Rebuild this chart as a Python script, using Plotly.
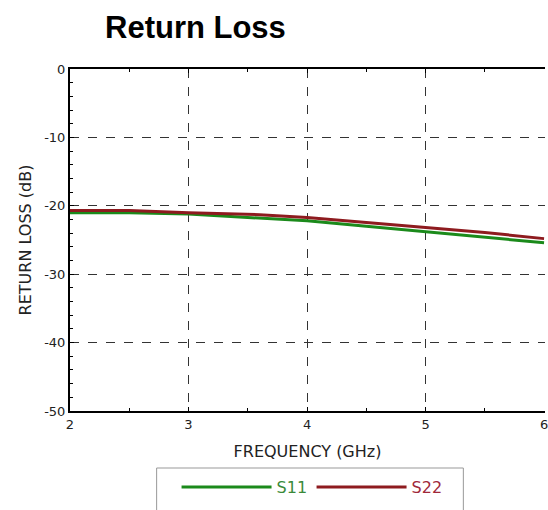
import plotly.graph_objects as go

freq = [2.0, 2.5, 3.0, 3.3, 3.6, 4.0, 4.5, 5.0, 5.5, 6.0]
s11 = [-21.0, -21.0, -21.2, -21.5, -21.8, -22.2, -23.0, -23.8, -24.6, -25.4]
s22 = [-20.7, -20.7, -21.0, -21.1, -21.3, -21.7, -22.4, -23.1, -23.9, -24.8]

x_ticks = [2, 3, 4, 5, 6]
y_ticks = [0, -10, -20, -30, -40, -50]

green = "#1b8a1b"
red = "#8e1b1f"
FONT = "DejaVu Sans, Arial"
TFONT = "Arial, Liberation Sans"

L, T, R_EDGE, B_EDGE = 70, 69, 547, 411
W, H = 548, 510

fig = go.Figure()
fig.add_trace(go.Scatter(x=freq, y=s11, mode="lines", line=dict(color=green, width=3),
                         name="<span style='color:#3a8a3a'>S11</span>"))
fig.add_trace(go.Scatter(x=freq, y=s22, mode="lines", line=dict(color=red, width=3),
                         name="<span style='color:#a0283a'>S22</span>"))

axis_common = dict(showline=True, linecolor="black", linewidth=2,
                   ticks="inside", ticklen=4, tickcolor="black",
                   showgrid=True, gridcolor="#333333", griddash="dash", gridwidth=1,
                   zeroline=False, ticklabeloverflow="allow",
                   tickfont=dict(family=FONT, size=13, color="#222"))

pw = R_EDGE - L
ph = B_EDGE - T

def px(xf):
    return (xf - L) / pw

def py(yf):
    return (B_EDGE - yf) / ph

fig.update_layout(
    width=W, height=H,
    margin=dict(l=L, r=W - R_EDGE - 1, t=T, b=H - B_EDGE),
    paper_bgcolor="white", plot_bgcolor="white",
    title=dict(text="<b>Return Loss</b>", x=105 / W, xanchor="left", xref="container",
               y=1 - 27 / H, yanchor="middle", yref="container",
               font=dict(family=TFONT, size=31, color="black")),
    xaxis=dict(range=[2, 6.008], tickvals=x_ticks, ticktext=[str(v) for v in x_ticks],
               mirror="allticks",
               minor=dict(dtick=0.5, ticks="inside", ticklen=3, tickcolor="black", showgrid=False),
               title=dict(text="FREQUENCY (GHz)", standoff=15,
                          font=dict(family=FONT, size=16, color="#222")),
               **axis_common),
    yaxis=dict(range=[-50, 0], tickvals=y_ticks, ticktext=[str(v) for v in y_ticks],
               mirror=False,
               minor=dict(dtick=2, ticks="inside", ticklen=3, tickcolor="black", showgrid=False),
               title=dict(text="RETURN LOSS (dB)", standoff=9,
                          font=dict(family=FONT, size=16, color="#222")),
               **axis_common),
    legend=dict(orientation="h", x=px(177), xanchor="left", xref="paper",
                y=py(470), yanchor="top", borderwidth=0,
                font=dict(family=FONT, size=16), itemwidth=90,
                entrywidth=30, bgcolor="rgba(0,0,0,0)"),
    shapes=[dict(type="rect", xref="paper", yref="paper",
                 x0=px(157), x1=px(465), y0=py(468), y1=py(540),
                 line=dict(color="#999", width=1), fillcolor="rgba(0,0,0,0)", layer="below")],
)

fig.write_html("out.html", config={"displayModeBar": False},
               post_script="document.body.style.margin='0';document.body.style.overflow='hidden';")
